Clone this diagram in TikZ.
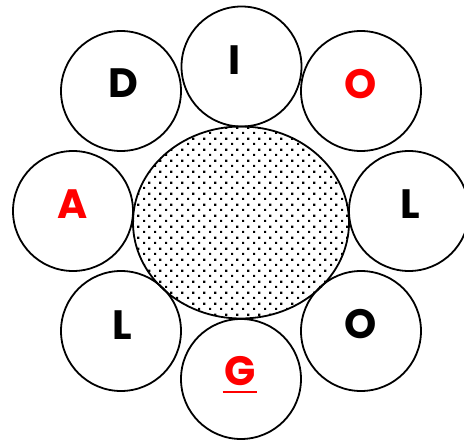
\documentclass[tikz,border=0pt]{standalone}
\usepackage{fontspec}
\setmainfont{Poppins}
\usetikzlibrary{shapes.geometric,patterns.meta}

\tikzdeclarepattern{name=sparsedots, type=uncolored,
  bounding box={(0,0) and (11pt,11pt)}, tile size={(11pt,11pt)},
  code={\fill (0,0) rectangle (2.4pt,2.4pt);
        \fill (5.5pt,5.5pt) rectangle (7.9pt,7.9pt);}}

\begin{document}
\begin{tikzpicture}[x=1pt,y=-1pt,
  ring/.style={circle, draw, line width=1.8pt, minimum size=120pt, inner sep=0pt},
  letter/.style={font=\fontsize{41}{41}\selectfont\bfseries, inner sep=0pt},
  redletter/.style={letter, text=red}]
\useasboundingbox (0,0) rectangle (464,442);

% dotted centre
\node [ellipse, draw, line width=1.8pt, pattern=sparsedots, minimum width=216pt, minimum height=192pt, inner sep=0pt] (core) at (241,222.5) {};

% ring of circles
\node [ring] (cI) at (241.5,66.5) {};
\node [ring] (cO1) at (361,91) {};
\node [ring] (cL1) at (409,211) {};
\node [ring] (cO2) at (361,331) {};
\node [ring] (cG) at (241,379) {};
\node [ring] (cL2) at (121,331) {};
\node [ring] (cA) at (73,211) {};
\node [ring] (cD) at (121,91) {};

\node [letter] (tI) at (235,60.5) {I};
\node [redletter] (tO1) at (361,84) {O};
\node [letter] (tL1) at (410,204) {L};
\node [letter] (tO2) at (361,324) {O};
\node [redletter] (tG) at (240,371) {G};
\node [letter] (tL2) at (122,325) {L};
\node [redletter] (tA) at (73,204) {A};
\node [letter] (tD) at (123,83) {D};

\draw [red, line width=1.5pt] ([xshift=-1.5pt,yshift=-6pt]tG.south west) -- ([xshift=1.5pt,yshift=-6pt]tG.south east);

\end{tikzpicture}
\end{document}
